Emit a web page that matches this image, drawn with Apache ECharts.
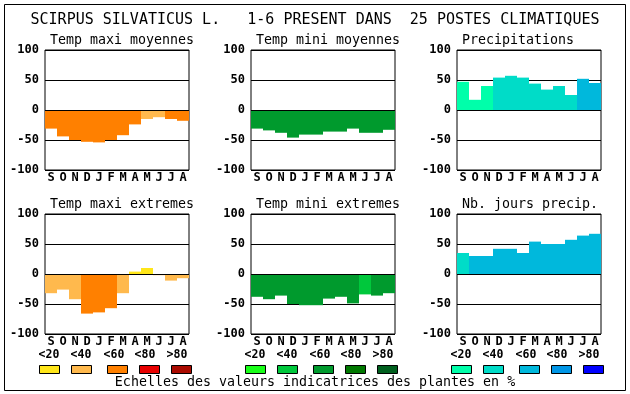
<!DOCTYPE html>
<html>
<head>
<meta charset="utf-8">
<script src="https://cdn.jsdelivr.net/npm/echarts@6/dist/echarts.min.js"></script>
<style>html,body{margin:0;padding:0;background:#fff}#c{width:630px;height:394px}</style>
</head>
<body>
<div id="c"></div>
<script>
const months = ['S','O','N','D','J','F','M','A','M','J','J','A'];
const yTicks = [-100,-50,0,50,100];
const mainTitle = 'SCIRPUS SILVATICUS L.   1-6 PRESENT DANS  25 POSTES CLIMATIQUES';
const footer = 'Echelles des valeurs indicatrices des plantes en %';
const classLabels = ['<20','<40','<60','<80','>80'];

const panelTitles = ['Temp maxi moyennes','Temp mini moyennes','Precipitations','Temp maxi extremes','Temp mini extremes','Nb. jours precip.'];

const maxiMoy    = [-31,-44,-50,-53,-54,-50,-42,-24,-15,-12,-15,-18];
const maxiMoyCls = [2,2,2,2,2,2,2,2,1,1,2,2];
const miniMoy    = [-31,-34,-38,-46,-41,-41,-36,-36,-31,-38,-38,-33];
const miniMoyCls = [2,2,2,2,2,2,2,2,2,2,2,2];
const precip     = [47,17,40,54,57,54,44,34,40,25,52,45];
const precipCls  = [0,0,0,1,1,1,1,1,1,1,2,2];
const maxiExt    = [-32,-26,-42,-66,-64,-57,-32,4,10,-2,-11,-7];
const maxiExtCls = [1,1,1,2,2,2,1,0,0,1,1,1];
const miniExt    = [-38,-42,-36,-50,-52,-52,-41,-38,-49,-34,-36,-32];
const miniExtCls = [2,2,2,2,2,2,2,2,2,1,2,2];
const nbJours    = [35,30,30,42,42,35,54,50,50,57,64,67];
const nbJoursCls = [1,2,2,2,2,2,2,2,2,2,2,2];

const warm  = ['#FFE619','#FFB94D','#FF8000','#E80000','#AA0A00'];
const green = ['#19FF19','#00C83C','#009A2D','#007800','#005F1E'];
const blue  = ['#00FFAA','#00DCC8','#00B8DC','#0096E6','#0000FF'];

const panels = [
  {vals: maxiMoy, cls: maxiMoyCls, pal: warm},
  {vals: miniMoy, cls: miniMoyCls, pal: green},
  {vals: precip, cls: precipCls, pal: blue},
  {vals: maxiExt, cls: maxiExtCls, pal: warm},
  {vals: miniExt, cls: miniExtCls, pal: green},
  {vals: nbJours, cls: nbJoursCls, pal: blue}
];
const palettes = [warm, green, blue];

const FONT = 'DejaVu Sans Mono';
const colLeft = [45, 251, 457];
const rowTop = [50, 214];
const W = 144, H = 120;

const grids = [], xAxes = [], yAxes = [], series = [], titles = [];
titles.push({text: mainTitle, left: 'center', top: 8,
  textStyle: {fontFamily: FONT, fontSize: 15, fontWeight: 'normal', color: '#000'}});

panels.forEach((p, i) => {
  const r = Math.floor(i / 3), c = i % 3;
  grids.push({left: colLeft[c], top: rowTop[r], width: W, height: H, show: true,
    borderColor: '#000', borderWidth: 1, backgroundColor: '#fff'});
  titles.push({text: panelTitles[i], left: colLeft[c], top: rowTop[r] - 21,
    textStyle: {fontFamily: FONT, fontSize: 13.3, fontWeight: 'normal', color: '#000'}});
  xAxes.push({type: 'category', gridIndex: i, data: months,
    axisLine: {show: false}, axisTick: {show: false},
    axisLabel: {fontFamily: FONT, fontSize: 12, fontWeight: 'bold', color: '#000', margin: 2, interval: 0}});
  yAxes.push({type: 'value', gridIndex: i, min: yTicks[0], max: yTicks[yTicks.length-1], interval: 50,
    axisLine: {show: false}, axisTick: {show: false},
    splitLine: {show: true, lineStyle: {color: '#000', width: 1}},
    axisLabel: {fontFamily: FONT, fontSize: 12, fontWeight: 'bold', color: '#000', margin: 6}});
  series.push({type: 'bar', xAxisIndex: i, yAxisIndex: i, barCategoryGap: '0%', barWidth: '100%',
    data: p.vals.map((v, k) => ({value: v, itemStyle: {color: p.pal[p.cls[k]]}})),
    markLine: {silent: true, symbol: 'none', label: {show: false},
      lineStyle: {color: '#000', width: 1, type: 'solid'}, data: [{yAxis: 0}]}});
});

const graphics = [];
graphics.push({type: 'rect', shape: {x: 4.5, y: 4.5, width: 621, height: 386},
  style: {fill: null, stroke: '#000', lineWidth: 1}, silent: true});
const boxX = [39, 71, 107, 139, 171];
const labX = [49, 81, 114, 145, 177];
palettes.forEach((pal, g) => {
  const off = g * 206;
  pal.forEach((col, k) => {
    graphics.push({type: 'rect', shape: {x: boxX[k] + off + 0.5, y: 365.5, width: 20, height: 8},
      style: {fill: col, stroke: '#000', lineWidth: 1}});
    graphics.push({type: 'text', x: labX[k] + off, y: 355,
      style: {text: classLabels[k], font: 'bold 11.5px "' + FONT + '"', fill: '#000', align: 'center', verticalAlign: 'middle'}});
  });
});
graphics.push({type: 'text', x: 315, y: 383,
  style: {text: footer, font: '13.3px "' + FONT + '"', fill: '#000', align: 'center', verticalAlign: 'middle'}});

const chart = echarts.init(document.getElementById('c'), null, {renderer: 'canvas'});
chart.setOption({animation: false, backgroundColor: '#fff', title: titles, grid: grids,
  xAxis: xAxes, yAxis: yAxes, series: series, graphic: graphics});
</script>
</body>
</html>
